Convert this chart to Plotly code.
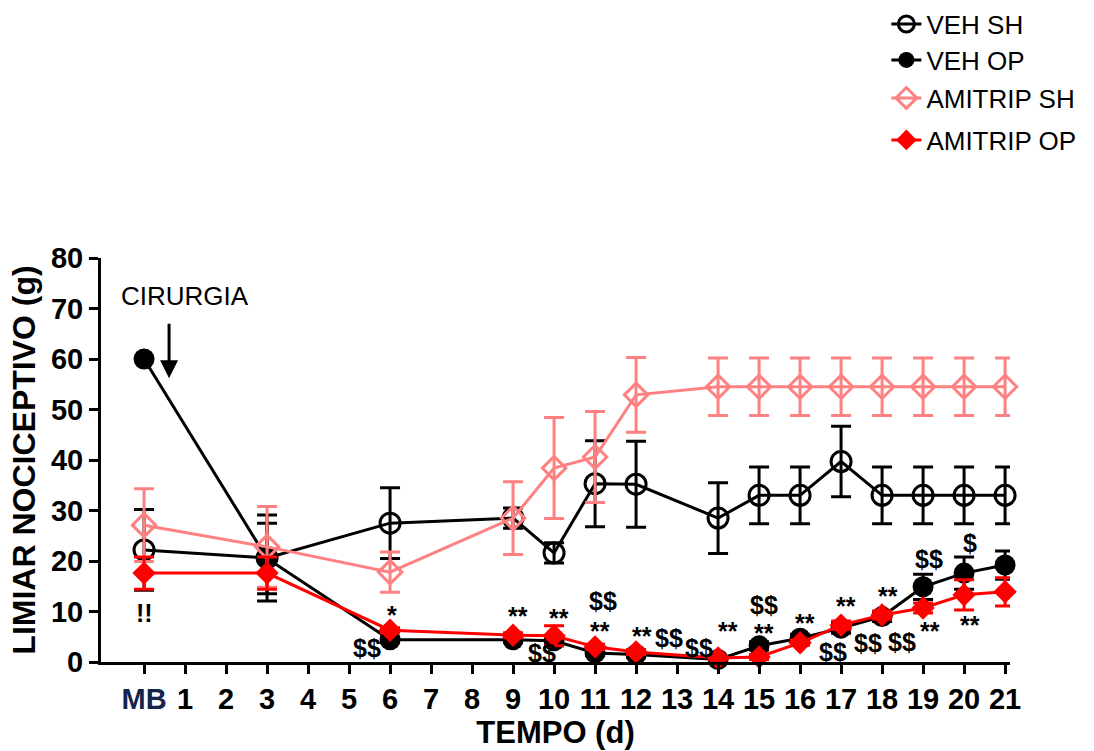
import plotly.graph_objects as go

# Days of measurement (0 = baseline "MB")
days = [0, 3, 6, 9, 10, 11, 12, 14, 15, 16, 17, 18, 19, 20, 21]

veh_sh = [22.2, 20.6, 27.5, 28.5, 21.6, 35.3, 35.2, 28.5, 33.0, 33.0, 39.7, 33.0, 33.0, 33.0, 33.0]
veh_sh_err = [8.0, 8.5, 7.0, 2.0, 2.0, 8.5, 8.5, 7.0, 5.6, 5.6, 7.0, 5.6, 5.6, 5.6, 5.6]

veh_op = [60.0, 20.5, 4.4, 4.4, 4.2, 1.8, 1.5, 0.5, 3.2, 4.7, 6.7, 9.0, 14.9, 17.6, 19.2]
veh_op_err = [0.0, 7.0, 0.5, 0.5, 1.0, 0.5, 0.5, 0.3, 0.8, 0.8, 1.0, 1.0, 2.5, 3.2, 2.8]

amitrip_sh = [27.1, 22.8, 17.8, 28.5, 38.4, 40.6, 52.9, 54.5, 54.5, 54.5, 54.5, 54.5, 54.5, 54.5, 54.5]
amitrip_sh_err = [7.2, 8.0, 4.0, 7.2, 10.0, 9.0, 7.4, 5.7, 5.7, 5.7, 5.7, 5.7, 5.7, 5.7, 5.7]

amitrip_op = [17.6, 17.6, 6.3, 5.3, 5.2, 3.0, 2.0, 0.8, 1.0, 3.8, 7.3, 9.3, 10.7, 13.3, 13.9]
amitrip_op_err = [3.2, 3.2, 0.5, 0.5, 2.0, 0.5, 0.5, 0.3, 0.5, 0.5, 0.8, 0.8, 1.0, 3.0, 2.8]

tick_vals = list(range(0, 22))
tick_text = ["<span style='color:#14244a'>MB</span>"] + [str(d) for d in range(1, 22)]

# Significance marks: text, x (day), y (g)
sig_text = ["!!", "*", "$$", "**", "**", "$$", "$$", "**", "**", "$$", "$$", "**",
            "$$", "**", "**", "$$", "**", "$$", "**", "$$", "$$", "**", "$", "**", "$", "**"]
sig_x = [0.02, 6.05, 5.44, 9.12, 10.12, 9.71, 11.2, 11.12, 12.15, 12.8, 13.54, 14.24,
         15.12, 15.12, 16.12, 16.8, 17.12, 17.66, 18.15, 18.49, 19.15, 19.17, 20.15, 20.15, 21.2, 21.17]
sig_y = [9.7, 9.9, 2.8, 9.7, 9.3, 1.8, 12.1, 6.8, 5.7, 4.75, 2.8, 6.7,
         11.3, 6.4, 8.3, 2.0, 11.7, 3.8, 13.7, 4.0, 20.4, 6.7, 23.6, 7.9, 24.8, 8.9]

FONT = "Liberation Sans, Arial, sans-serif"
BLACK = "#000000"
PINK = "#FF8080"
RED = "#FF0000"

fig = go.Figure()


def add_series(name, y, err, color, symbol, size, legend, open_marker):
    marker = dict(symbol=symbol, size=size, color=color,
                  line=dict(color=color, width=3 if open_marker else 0))
    fig.add_trace(go.Scatter(
        x=days, y=y, name=name, mode="lines+markers",
        line=dict(color=color, width=3),
        marker=marker,
        error_y=dict(type="data", array=err, visible=True, color=color,
                     thickness=3, width=10),
        cliponaxis=False,
        legend=legend,
    ))


add_series("VEH SH", veh_sh, veh_sh_err, BLACK, "circle-open", 20, "legend", True)
add_series("VEH OP", veh_op, veh_op_err, BLACK, "circle", 21, "legend2", False)
add_series("AMITRIP SH", amitrip_sh, amitrip_sh_err, PINK, "diamond-open", 18, "legend3", True)
add_series("AMITRIP OP", amitrip_op, amitrip_op_err, RED, "diamond", 18, "legend4", False)

annotations = []
for t, x, y in zip(sig_text, sig_x, sig_y):
    annotations.append(dict(
        x=x, y=y, xref="x", yref="y", text=t, showarrow=False,
        font=dict(family=FONT, size=25, color=BLACK, weight="bold"),
        yshift=-3 if "*" in t else 0,
    ))

# Surgery label and arrow
annotations.append(dict(x=1.0, y=72.5, xref="x", yref="y", text="CIRURGIA",
                        showarrow=False, font=dict(family=FONT, size=26, color=BLACK)))
annotations.append(dict(x=0.61, y=56.2, xref="x", yref="y", ax=0.61, ay=67.3,
                        axref="x", ayref="y", text="", showarrow=True,
                        arrowhead=2, arrowsize=1.2, arrowwidth=3, arrowcolor=BLACK))

legend_common = dict(font=dict(family=FONT, size=26, color=BLACK),
                     bgcolor="rgba(0,0,0,0)", xanchor="left", yanchor="middle",
                     x=0.864)

fig.update_layout(
    width=1094, height=751,
    margin=dict(l=101, r=84, t=258, b=89, autoexpand=False),
    paper_bgcolor="white", plot_bgcolor="white",
    font=dict(family=FONT, color=BLACK),
    showlegend=True,
    legend=dict(y=1.579, **legend_common),
    legend2=dict(y=1.490, **legend_common),
    legend3=dict(y=1.396, **legend_common),
    legend4=dict(y=1.292, **legend_common),
    annotations=annotations,
    xaxis=dict(
        range=[-1.05, 21.12], tickvals=tick_vals, ticktext=tick_text,
        automargin=False,
        showline=True, linecolor=BLACK, linewidth=3, showgrid=False, zeroline=False,
        ticks="outside", ticklen=9, tickwidth=3, tickcolor=BLACK,
        tickfont=dict(family=FONT, size=29, color=BLACK, weight="bold"),
        title=dict(text="TEMPO (d)", standoff=8,
                   font=dict(family=FONT, size=31, color=BLACK, weight="bold")),
    ),
    yaxis=dict(
        range=[0, 80], tickvals=list(range(0, 81, 10)),
        automargin=False,
        showline=True, linecolor=BLACK, linewidth=3, showgrid=False, zeroline=False,
        ticks="outside", ticklen=9, tickwidth=3, tickcolor=BLACK,
        tickfont=dict(family=FONT, size=29, color=BLACK, weight="bold"),
        title=dict(text="LIMIAR NOCICEPTIVO (g)", standoff=6,
                   font=dict(family=FONT, size=32, color=BLACK, weight="bold")),
    ),
)

fig.write_html("out.html")
